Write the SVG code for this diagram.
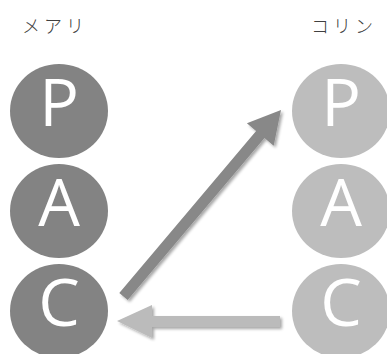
<svg xmlns="http://www.w3.org/2000/svg" width="387" height="354" viewBox="0 0 387 354">
  <defs>
    <filter id="shadow" x="-20%" y="-20%" width="140%" height="140%">
      <feGaussianBlur in="SourceAlpha" stdDeviation="1.5"/>
      <feOffset dx="2" dy="2" result="b"/>
      <feComponentTransfer><feFuncA type="linear" slope="0.35"/></feComponentTransfer>
      <feMerge><feMergeNode/><feMergeNode in="SourceGraphic"/></feMerge>
    </filter>
  </defs>
  <style>
    .name { font-family: "Noto Sans CJK JP", sans-serif; font-weight: 300; font-size: 18px; fill: #404040; letter-spacing: 4px; }
    .dark { fill: #838383; }
    .light { fill: #bdbdbd; }
    .letter { font-family: "Open Sans", "Liberation Sans", sans-serif; font-weight: 400; font-size: 66px; fill: #ffffff; text-anchor: middle; }
  </style>
  <rect width="387" height="354" fill="#ffffff"/>

  <text class="name" x="22" y="33">メアリ</text>
  <text class="name" x="311" y="33">コリン</text>

  <g id="mary-p"><ellipse class="dark" cx="59" cy="111" rx="49" ry="47"/><text class="letter" x="59" y="126">P</text></g>
  <g id="mary-a"><ellipse class="dark" cx="59" cy="211" rx="49" ry="47"/><text class="letter" x="59" y="226">A</text></g>
  <g id="mary-c"><ellipse class="dark" cx="59" cy="311" rx="49" ry="47"/><text class="letter" x="59" y="326">C</text></g>

  <g id="colin-p"><ellipse class="light" cx="341" cy="111" rx="49" ry="47"/><text class="letter" x="341" y="126">P</text></g>
  <g id="colin-a"><ellipse class="light" cx="341" cy="211" rx="49" ry="47"/><text class="letter" x="341" y="226">A</text></g>
  <g id="colin-c"><ellipse class="light" cx="341" cy="311" rx="49" ry="47"/><text class="letter" x="341" y="326">C</text></g>

  <g id="connectors" filter="url(#shadow)">
    <!-- Mary C to Colin P: broad diagonal arrow -->
    <polygon fill="#888888" points="119.3,292.9 256.1,130.9 246.9,123.2 281,110 273.7,145.8 264.5,138.1 127.7,300.1"/>
    <!-- Colin C back to Mary C: broad horizontal arrow -->
    <polygon fill="#bbbbbb" points="280,316 152,316 152,305 117,321 152,338 152,327 280,327"/>
  </g>
</svg>
